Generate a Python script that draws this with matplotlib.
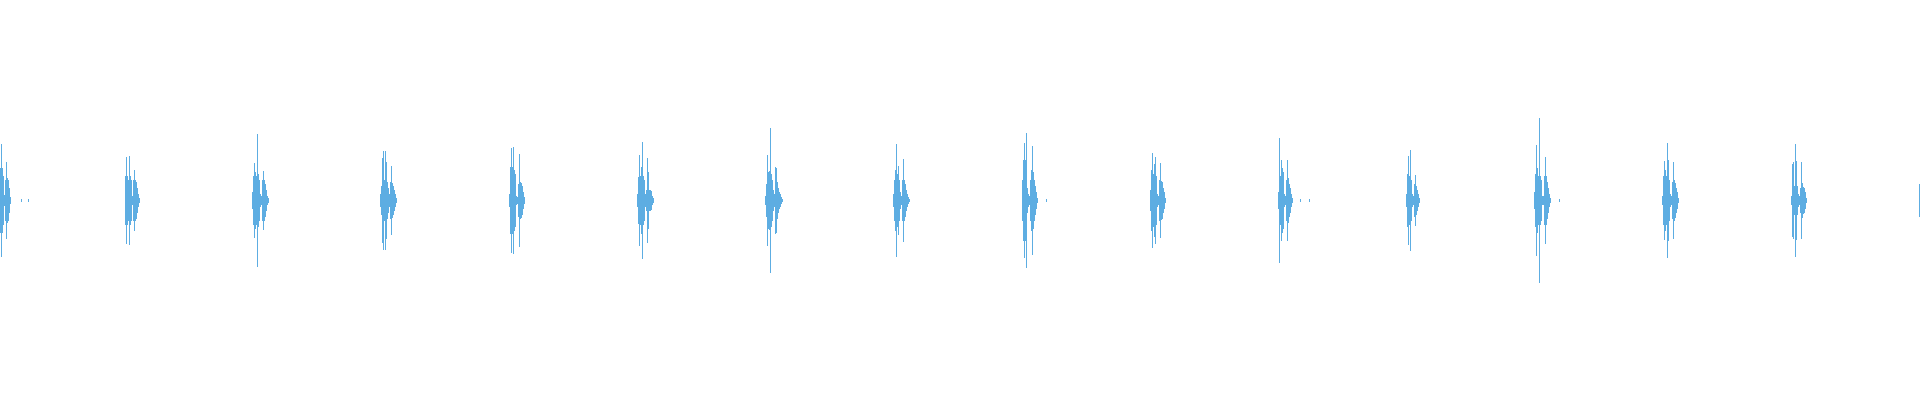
import numpy as np
import matplotlib
matplotlib.use("Agg")
import matplotlib.pyplot as plt

# waveform envelope, one value per display bin (1920 bins across)
# each burst: start bin + peak amplitude per bin (normalised, 1.0 = full half height)
burst_start = [0, 21, 28, 125, 252, 380, 509, 637, 765, 893, 1022, 1046,
               1150, 1278, 1300, 1309, 1406, 1534, 1559, 1662, 1791, 1918]
burst_amp = [
    [0.16, 0.28, 0.16, 0.12, 0.025, 0.10, 0.19, 0.11, 0.10, 0.06, 0.015],
    [0.003],
    [0.003],
    [0.12, 0.215, 0.12, 0.10, 0.22, 0.12, 0.10, 0.02, 0.10, 0.15, 0.10, 0.09, 0.06, 0.03, 0.012],
    [0.04, 0.12, 0.185, 0.14, 0.12, 0.33, 0.13, 0.10, 0.03, 0.02, 0.10, 0.145, 0.10, 0.08, 0.05, 0.02, 0.01],
    [0.03, 0.07, 0.21, 0.245, 0.10, 0.245, 0.19, 0.09, 0.06, 0.03, 0.09, 0.17, 0.085, 0.07, 0.05, 0.03, 0.01],
    [0.03, 0.165, 0.26, 0.165, 0.265, 0.15, 0.13, 0.02, 0.015, 0.08, 0.23, 0.09, 0.085, 0.07, 0.04, 0.015],
    [0.03, 0.115, 0.225, 0.12, 0.165, 0.29, 0.12, 0.10, 0.03, 0.05, 0.21, 0.14, 0.05, 0.05, 0.045, 0.02, 0.01],
    [0.02, 0.08, 0.225, 0.14, 0.145, 0.36, 0.13, 0.10, 0.05, 0.03, 0.165, 0.16, 0.09, 0.06, 0.04, 0.03, 0.015, 0.005],
    [0.03, 0.10, 0.15, 0.28, 0.13, 0.17, 0.10, 0.04, 0.02, 0.10, 0.205, 0.10, 0.08, 0.05, 0.03, 0.015, 0.005],
    [0.10, 0.20, 0.285, 0.20, 0.335, 0.06, 0.03, 0.02, 0.10, 0.15, 0.27, 0.14, 0.10, 0.07, 0.04, 0.01],
    [0.004],
    [0.05, 0.15, 0.235, 0.13, 0.18, 0.215, 0.12, 0.03, 0.02, 0.10, 0.185, 0.095, 0.09, 0.06, 0.04, 0.01],
    [0.04, 0.31, 0.12, 0.20, 0.16, 0.14, 0.03, 0.02, 0.10, 0.20, 0.11, 0.08, 0.06, 0.03, 0.01],
    [0.003],
    [0.003],
    [0.03, 0.13, 0.22, 0.12, 0.25, 0.10, 0.03, 0.02, 0.08, 0.125, 0.07, 0.05, 0.03, 0.01],
    [0.04, 0.13, 0.275, 0.16, 0.12, 0.41, 0.12, 0.10, 0.02, 0.02, 0.12, 0.215, 0.12, 0.09, 0.06, 0.03, 0.01],
    [0.003],
    [0.02, 0.12, 0.195, 0.15, 0.12, 0.285, 0.20, 0.10, 0.03, 0.02, 0.09, 0.19, 0.10, 0.085, 0.06, 0.04, 0.01],
    [0.02, 0.18, 0.19, 0.07, 0.28, 0.195, 0.07, 0.03, 0.02, 0.06, 0.19, 0.085, 0.065, 0.06, 0.04, 0.01],
    [0.0, 0.08],
]
n_bins = 1920
wave_color = '#5DADE2'

xs = []
amps = []
for start, vals in zip(burst_start, burst_amp):
    for i, v in enumerate(vals):
        xs.append(start + i)
        amps.append(v)
xs = np.array(xs) + 0.4
amps = np.array(amps)

fig = plt.figure(figsize=(19.2, 4), dpi=100)
ax = fig.add_axes([0, 0, 1, 1])
ax.vlines(xs, -amps, amps, colors=wave_color, linewidth=0.5,
          antialiased=False, clip_on=False)
ax.set_xlim(0, n_bins)
ax.set_ylim(-1.0, 1.0)
ax.axis('off')
fig.savefig('out.png', dpi=100, facecolor='white')
